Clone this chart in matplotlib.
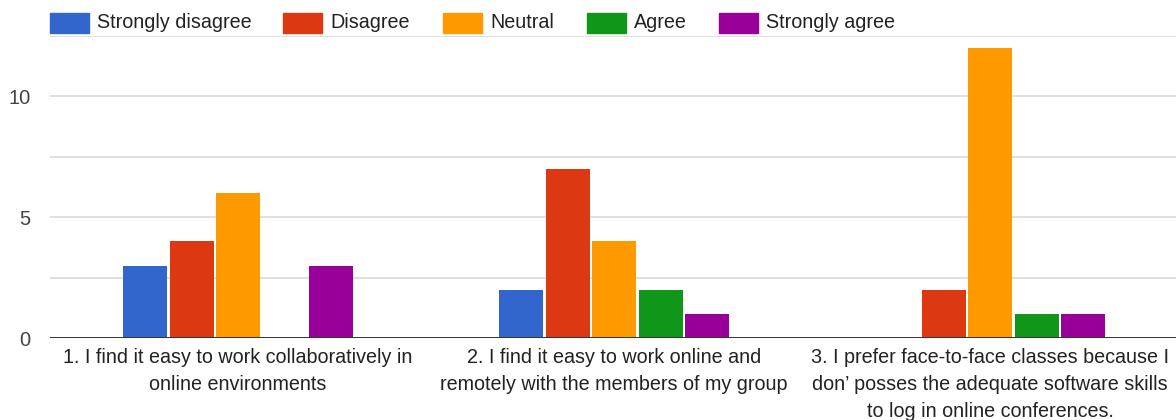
import numpy as np
import matplotlib
matplotlib.use("Agg")
import matplotlib.pyplot as plt
from matplotlib.patches import Rectangle

plt.rcParams['font.family'] = ['Liberation Sans', 'DejaVu Sans']

questions = [
    "1. I find it easy to work collaboratively in\nonline environments",
    "2. I find it easy to work online and\nremotely with the members of my group",
    "3. I prefer face-to-face classes because I\ndon\u2019 posses the adequate software skills\nto log in online conferences.",
]
answers = ["Strongly disagree", "Disagree", "Neutral", "Agree", "Strongly agree"]
colors = ["#3366cc", "#dc3912", "#ff9900", "#109618", "#990099"]

strongly_disagree = [3, 2, 0]
disagree = [4, 7, 2]
neutral = [6, 4, 12]
agree = [0, 2, 1]
strongly_agree = [3, 1, 1]
series = [strongly_disagree, disagree, neutral, agree, strongly_agree]

W, H = 1176, 420
fig = plt.figure(figsize=(W / 100, H / 100), dpi=100)
ax = fig.add_axes([50 / W, (H - 338) / H, 1128 / W, (338 - 36) / H])

x = np.arange(len(questions))
slot = 46.5 / 376
for i, (vals, c) in enumerate(zip(series, colors)):
    ax.bar(x + (i - 2) * slot, vals, width=44 / 376, color=c, zorder=3)

ax.set_xlim(-0.5, 2.5)
ax.set_ylim(0, 12.5)
ax.set_yticks([0, 5, 10])
ax.set_yticks([2.5, 7.5, 12.5], minor=True)
ax.grid(axis='y', which='both', color='#d9d9d9', linewidth=1.2, zorder=0)
ax.axhline(0, color='#333333', linewidth=1.4, zorder=4)
for s in ax.spines.values():
    s.set_visible(False)
ax.tick_params(axis='y', which='both', length=0, pad=14, labelsize=14.5, labelcolor='#444444')
ax.set_xticks(x)
ax.set_xticklabels(questions, fontsize=14.2, color='#222222', linespacing=1.55)
ax.tick_params(axis='x', length=0, pad=7)

# legend row along the top
patch_x = [50, 283, 443, 587, 719]
for px, name, c in zip(patch_x, answers, colors):
    fig.patches.append(Rectangle((px / W, (H - 33) / H), 39 / W, 20 / H,
                                 transform=fig.transFigure, color=c))
    fig.text((px + 47) / W, (H - 23) / H, name, fontsize=14.2, color='#222222',
             va='center', ha='left')

fig.savefig("out.png", dpi=100, facecolor='white')
